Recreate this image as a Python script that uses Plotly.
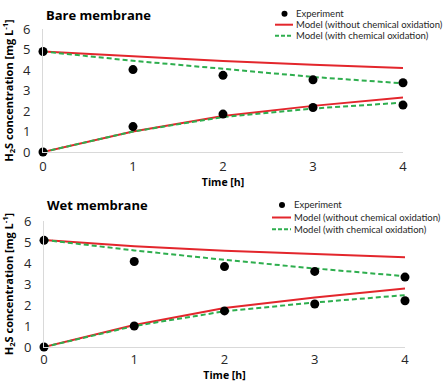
import plotly.graph_objects as go

time_h = [0, 1, 2, 3, 4]

# Bare membrane
bare_exp_upper = [4.9, 4.02, 3.74, 3.52, 3.38]
bare_exp_lower = [0.0, 1.24, 1.85, 2.17, 2.29]
bare_red_upper = [4.9, 4.66, 4.44, 4.26, 4.1]
bare_red_lower = [0.0, 1.0, 1.76, 2.25, 2.66]
bare_grn_upper = [4.9, 4.45, 4.06, 3.66, 3.35]
bare_grn_lower = [0.0, 1.0, 1.7, 2.12, 2.41]

# Wet membrane
wet_exp_upper = [5.08, 4.07, 3.83, 3.6, 3.33]
wet_exp_lower = [0.0, 1.0, 1.72, 2.05, 2.2]
wet_red_upper = [5.1, 4.8, 4.58, 4.42, 4.27]
wet_red_lower = [0.0, 1.05, 1.86, 2.36, 2.78]
wet_grn_upper = [5.1, 4.6, 4.15, 3.74, 3.37]
wet_grn_lower = [0.0, 1.0, 1.7, 2.12, 2.47]

panel_titles = ["Bare membrane", "Wet membrane"]
legend_labels = ["Experiment", "Model (without chemical oxidation)", "Model (with chemical oxidation)"]

RED = "#e3262c"
GREEN = "#2eae4e"
FONT = "Open Sans"
LFONT = "Lato"

fig = go.Figure()

def add_panel(xa, ya, exp_u, exp_l, red_u, red_l, grn_u, grn_l):
    for ys in (red_u, red_l):
        fig.add_trace(go.Scatter(x=time_h, y=ys, mode="lines", line=dict(color=RED, width=2),
                                 xaxis=xa, yaxis=ya, showlegend=False, cliponaxis=False))
    for ys in (grn_u, grn_l):
        fig.add_trace(go.Scatter(x=time_h, y=ys, mode="lines", line=dict(color=GREEN, width=2, dash="5px,3px"),
                                 xaxis=xa, yaxis=ya, showlegend=False, cliponaxis=False))
    for ys in (exp_u, exp_l):
        fig.add_trace(go.Scatter(x=time_h, y=ys, mode="markers", marker=dict(color="black", size=9),
                                 xaxis=xa, yaxis=ya, showlegend=False, cliponaxis=False))

add_panel("x", "y", bare_exp_upper, bare_exp_lower, bare_red_upper, bare_red_lower, bare_grn_upper, bare_grn_lower)
add_panel("x2", "y2", wet_exp_upper, wet_exp_lower, wet_red_upper, wet_red_lower, wet_grn_upper, wet_grn_lower)

W, H = 447, 385
def px(x): return x / W
def py(y): return 1 - y / H

axis_common = dict(showgrid=False, zeroline=False, showline=True, linecolor="#d9d9d9", linewidth=1,
                   ticks="", automargin=False, tickfont=dict(family=FONT, size=13, color="#262626"))
ytitle = "H<sub>2</sub>S concentration [mg L<sup>-1</sup>]"
xtitle = "Time [h]"
xtfont = dict(family=FONT, size=10.5, color="black", weight="bold")
ytfont = dict(family=FONT, size=11, color="black", weight="bold")

fig.update_layout(
    width=W, height=H, margin=dict(l=0, r=0, t=0, b=0),
    paper_bgcolor="white", plot_bgcolor="white", showlegend=False,
    xaxis=dict(domain=[px(43), px(403)], range=[0, 4], anchor="y", tickvals=time_h, ticklabelstandoff=2,
               title=dict(text=xtitle, font=xtfont, standoff=3), **axis_common),
    yaxis=dict(domain=[py(152), py(29)], range=[0, 6], anchor="x", dtick=1, ticklabelstandoff=9,
               title=dict(text=ytitle, font=ytfont, standoff=9), **axis_common),
    xaxis2=dict(domain=[px(44), px(405)], range=[0, 4], anchor="y2", tickvals=time_h, ticklabelstandoff=0,
                title=dict(text=xtitle, font=xtfont, standoff=0), **axis_common),
    yaxis2=dict(domain=[py(347), py(221)], range=[0, 6], anchor="x2", dtick=1, ticklabelstandoff=9,
                title=dict(text=ytitle, font=ytfont, standoff=9), **axis_common),
)

# Panel titles
for title, (tx, ty) in zip(panel_titles, [(44, 15), (45, 205)]):
    fig.add_annotation(x=px(tx), y=py(ty), xref="paper", yref="paper", text=f"<b>{title}</b>",
                       showarrow=False, xanchor="left", yanchor="middle",
                       font=dict(family=FONT, size=13, color="black"))

# Legends (one per panel)
for (lx0, lx1, tx, rows) in [(275, 293, 294, (13.7, 24.7, 35.7)), (272, 291, 292, (205, 217.5, 229.3))]:
    cx = (lx0 + lx1) / 2 + 0.5
    fig.add_shape(type="circle", xref="paper", yref="paper",
                  x0=px(cx - 3), x1=px(cx + 3), y0=py(rows[0] + 3), y1=py(rows[0] - 3),
                  fillcolor="black", line=dict(width=0))
    fig.add_shape(type="line", xref="paper", yref="paper", x0=px(lx0), x1=px(lx1),
                  y0=py(rows[1]), y1=py(rows[1]), line=dict(color=RED, width=2))
    fig.add_shape(type="line", xref="paper", yref="paper", x0=px(lx0), x1=px(lx1),
                  y0=py(rows[2]), y1=py(rows[2]), line=dict(color=GREEN, width=2, dash="4px,2px"))
    for lab, ry in zip(legend_labels, rows):
        fig.add_annotation(x=px(tx), y=py(ry), xref="paper", yref="paper", text=lab, showarrow=False,
                           xanchor="left", yanchor="middle", font=dict(family=LFONT, size=9.5, color="#262626"))

fig.write_html("out.html", config={"displayModeBar": False},
               post_script="document.body.style.margin='0';document.body.style.padding='0';")
